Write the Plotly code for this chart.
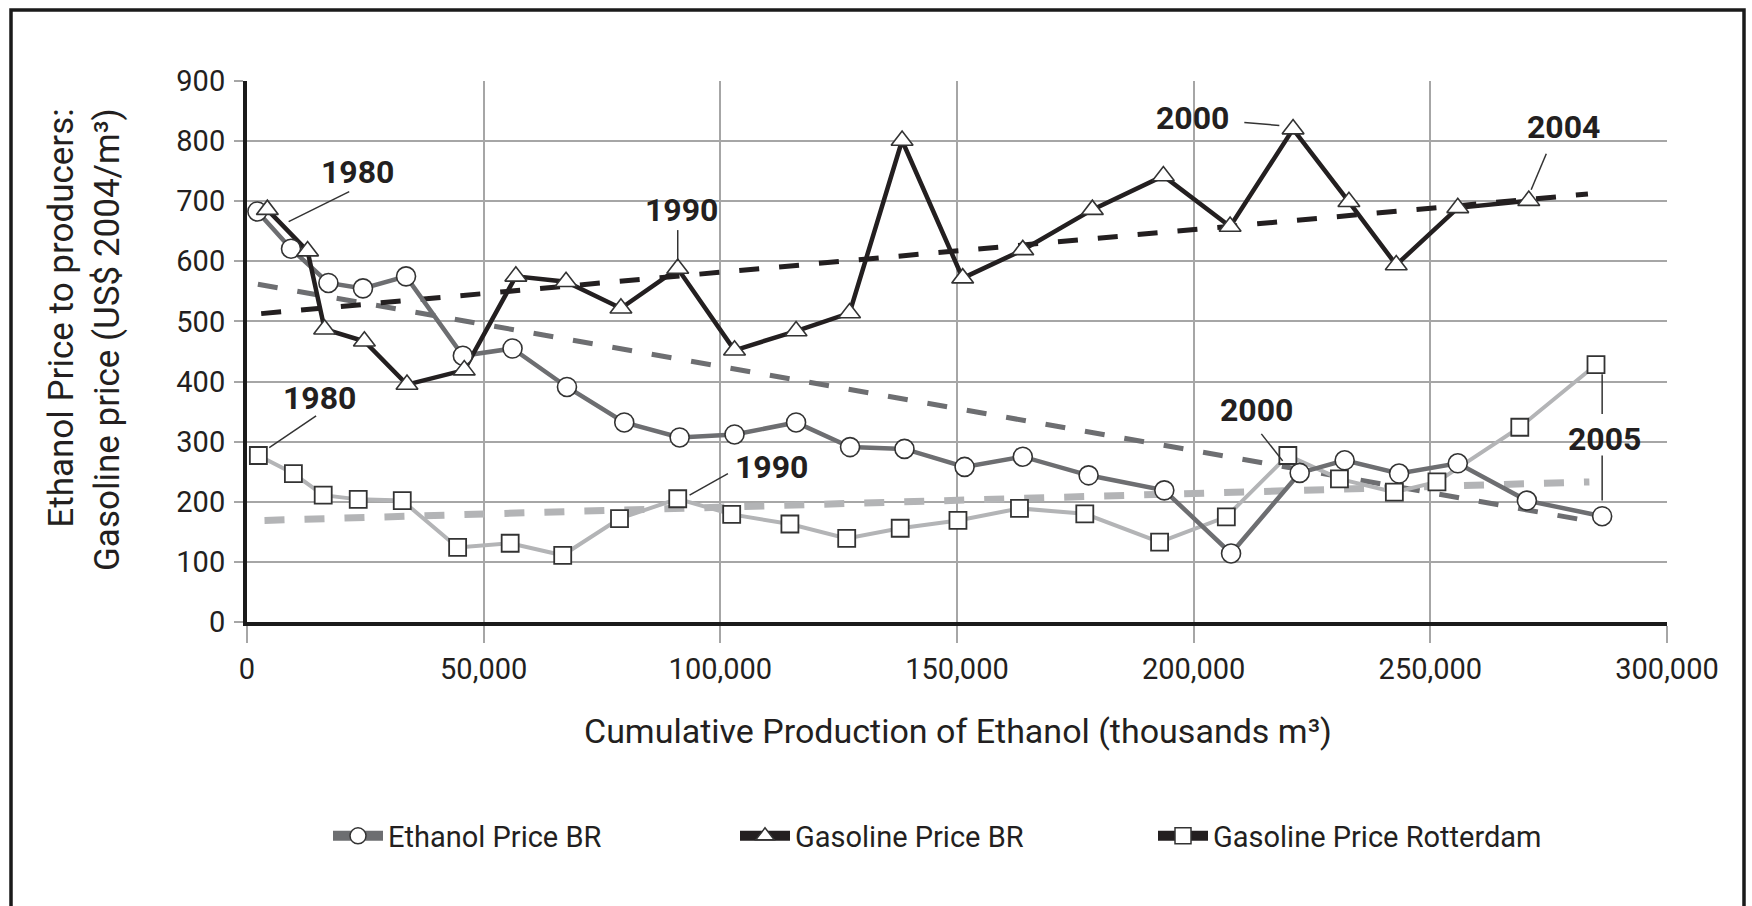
import plotly.graph_objects as go

# ---------------- data ----------------
# Ethanol price to producers in Brazil (US$ 2004 / m3), circles
eth_x = [2200, 9300, 17200, 24500, 33600, 45600, 56100, 67600, 79700, 91400,
         103000, 116000, 127400, 138900, 151600, 163900, 177800, 193800, 207900,
         222400, 231900, 243400, 255800, 270400, 286300]
eth_y = [683, 621, 564, 555, 575, 443, 455, 391, 332, 307,
         312, 332, 291, 288, 258, 275, 244, 219, 114,
         248, 269, 247, 264, 202, 176]

# Gasoline price Brazil, triangles
gas_x = [4300, 12800, 16400, 24800, 33800, 45900, 56800, 67400, 79000, 91000,
         103000, 116000, 127300, 138400, 151200, 163900, 178600, 193600, 207700,
         221000, 232800, 242800, 255800, 270800]
gas_y = [686, 617, 487, 467, 395, 419, 575, 566, 522, 588,
         452, 484, 514, 801, 572, 619, 686, 742, 658,
         820, 699, 594, 689, 701]

# Gasoline price Rotterdam, squares
rot_x = [2400, 9800, 16100, 23500, 32800, 44500, 55600, 66700, 78700, 91000,
         102400, 114700, 126700, 138000, 150200, 163200, 177000, 192800, 206900,
         219900, 230800, 242400, 251400, 268900, 285000]
rot_y = [277, 247, 211, 204, 202, 124, 131, 111, 172, 205,
         179, 163, 139, 156, 169, 189, 180, 133, 175,
         277, 238, 216, 233, 324, 428]

# Trend lines (end points)
eth_trend_x = [2300, 283600]
eth_trend_y = [562, 168]
gas_trend_x = [3000, 283300]
gas_trend_y = [513, 712]
rot_trend_x = [3700, 283600]
rot_trend_y = [169, 233]

x_ticks = [0, 50000, 100000, 150000, 200000, 250000, 300000]
y_ticks = [0, 100, 200, 300, 400, 500, 600, 700, 800, 900]

legend_names = ["Ethanol Price BR", "Gasoline Price BR", "Gasoline Price Rotterdam"]

# ---------------- style ----------------
FONT = "Roboto"
TXT = "#231f20"
ETH_C = "#6d6e71"
GAS_C = "#231f20"
ROT_C = "#b3b4b6"
GRID = "#a6a6a6"
MK_LINE = "#333333"

W, H = 1752, 906
L, R, T, B = 247, 85, 81, 284
PW, PH = W - L - R, H - T - B


def px_to_paper_x(px):
    return (px - L) / PW


def px_to_paper_y(py):
    return (H - B - py) / PH


fig = go.Figure()


def add_line(x, y, color, width, dash="solid"):
    fig.add_trace(go.Scatter(x=x, y=y, mode="lines",
                             line=dict(color=color, width=width, dash=dash),
                             showlegend=False, hoverinfo="skip"))


def add_markers(x, y, symbol, size, lw):
    fig.add_trace(go.Scatter(x=x, y=y, mode="markers",
                             marker=dict(symbol=symbol, size=size, color="white",
                                         line=dict(color=MK_LINE, width=lw)),
                             showlegend=False, hoverinfo="skip"))


DASH = "20px,20px"
add_line(rot_trend_x, rot_trend_y, ROT_C, 7, DASH)
add_line(eth_trend_x, eth_trend_y, ETH_C, 5, DASH)
add_line(gas_trend_x, gas_trend_y, GAS_C, 5, DASH)
add_line(rot_x, rot_y, ROT_C, 4)
add_line(eth_x, eth_y, ETH_C, 4.5)
add_line(gas_x, gas_y, GAS_C, 4.5)
add_markers(rot_x, rot_y, "square", 17, 1.8)
add_markers(eth_x, eth_y, "circle", 19, 1.6)
add_markers(gas_x, gas_y, "triangle-up", 19, 1.6)

# legend entries (the printed legend shows the Rotterdam key in black)
leg_specs = [
    (legend_names[0], ETH_C, "circle", "legend"),
    (legend_names[1], GAS_C, "triangle-up", "legend2"),
    (legend_names[2], GAS_C, "square", "legend3"),
]
for name, col, sym, lg in leg_specs:
    fig.add_trace(go.Scatter(x=[None], y=[None], mode="lines+markers", name=name,
                             line=dict(color=col, width=10),
                             marker=dict(symbol=sym, size=16, color="white",
                                         line=dict(color=MK_LINE, width=1.5)),
                             legend=lg, showlegend=True))

leg_font = dict(family=FONT, size=29, color=TXT)
text_starts = [390, 797, 1215]
LEG_Y = 836
legends = {}
for key, ts in zip(["legend", "legend2", "legend3"], text_starts):
    legends[key] = dict(x=(ts - 62) / W, y=1 - LEG_Y / H, xref="container", yref="container",
                        xanchor="left", yanchor="middle", orientation="h",
                        itemwidth=50, font=leg_font, bgcolor="rgba(0,0,0,0)",
                        borderwidth=0)

# ---------------- annotations ----------------
labels = [
    ("1980", 23300, 749), ("1990", 91800, 686), ("2000", 199800, 838), ("2004", 278200, 823),
    ("1980", 15300, 372), ("1990", 110800, 258), ("2000", 213300, 352), ("2005", 286800, 305),
]
annotations = []
for txt, ax_, ay_ in labels:
    annotations.append(dict(text="<b>%s</b>" % txt, x=ax_, y=ay_, xref="x", yref="y",
                            showarrow=False, xanchor="center", yanchor="middle",
                            font=dict(family=FONT, size=32, color=TXT)))

leader_lines = [
    (21600, 716, 8800, 666), (91000, 652, 91000, 600), (210700, 831, 218100, 826),
    (274500, 779, 271300, 719), (14600, 343, 4700, 290), (101600, 247, 93500, 211),
    (214300, 313, 218800, 268), (286300, 412, 286300, 346), (286300, 277, 286300, 202),
]
shapes = []
for x0, y0, x1, y1 in leader_lines:
    shapes.append(dict(type="line", xref="x", yref="y", x0=x0, y0=y0, x1=x1, y1=y1,
                       line=dict(color="#333333", width=1.5), layer="above"))

# outer frame
shapes.append(dict(type="rect", xref="paper", yref="paper",
                   x0=px_to_paper_x(11), x1=px_to_paper_x(1744),
                   y0=px_to_paper_y(930), y1=px_to_paper_y(10),
                   line=dict(color="#1a1a1a", width=3.5), fillcolor="rgba(0,0,0,0)",
                   layer="below"))

# axis titles
annotations.append(dict(text="Cumulative Production of Ethanol (thousands m³)",
                        xref="paper", yref="paper", x=px_to_paper_x(958), y=px_to_paper_y(731),
                        showarrow=False, xanchor="center", yanchor="middle",
                        font=dict(family=FONT, size=34, color=TXT)))
annotations.append(dict(text="Ethanol Price to producers:<br>Gasoline price (US$ 2004/m³)",
                        xref="paper", yref="paper", x=px_to_paper_x(84), y=px_to_paper_y(340),
                        showarrow=False, xanchor="center", yanchor="middle", textangle=-90,
                        align="right", font=dict(family=FONT, size=35, color=TXT)))

axis_common = dict(showgrid=True, gridcolor=GRID, gridwidth=2, showline=True,
                   linecolor="#1a1a1a", linewidth=4, ticks="outside", tickcolor=GRID,
                   tickwidth=2, zeroline=False,
                   tickfont=dict(family=FONT, size=29, color=TXT))

fig.update_layout(
    width=W, height=H,
    margin=dict(l=L, r=R, t=T, b=B, pad=0),
    paper_bgcolor="white", plot_bgcolor="white",
    font=dict(family=FONT, color=TXT),
    xaxis=dict(range=[0, 300000], tickvals=x_ticks, tickformat=",d", ticklen=17,
               ticklabelstandoff=1, **axis_common),
    yaxis=dict(range=[0, 900], tickvals=y_ticks, ticklen=9, ticklabelstandoff=3,
               **axis_common),
    annotations=annotations,
    shapes=shapes,
    hovermode=False,
    **legends,
)

fig.write_html("out.html", include_plotlyjs=True, config={"displayModeBar": False},
               post_script="document.body.style.margin='0';document.body.style.overflow='hidden';")
